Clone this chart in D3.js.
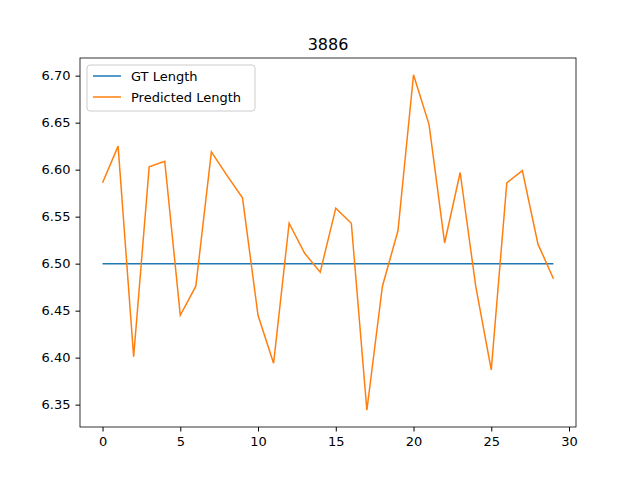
<!DOCTYPE html>
<html><head><meta charset="utf-8">
<script src="https://cdn.jsdelivr.net/npm/d3@7"></script>
<style>body{margin:0;background:#fff}text{font-family:"DejaVu Sans",sans-serif}</style>
</head><body><div id="chart"></div>
<script>
const title = "3886";
const gtLength = Array(30).fill(6.5);
const predLength = [6.586, 6.625, 6.401, 6.603, 6.609, 6.445, 6.476, 6.619, 6.594, 6.570,
  6.445, 6.394, 6.543, 6.511, 6.491, 6.559, 6.543, 6.344, 6.476, 6.535,
  6.701, 6.648, 6.522, 6.597, 6.476, 6.387, 6.586, 6.599, 6.521, 6.484];
const xTicks = [0, 5, 10, 15, 20, 25, 30];
const yTicks = [6.35, 6.40, 6.45, 6.50, 6.55, 6.60, 6.65, 6.70];

const width = 640, height = 480;
const margin = {top: 58, right: 64, bottom: 53, left: 80};

const svg = d3.select("#chart").append("svg")
  .attr("width", width).attr("height", height);

const x = d3.scaleLinear().domain([-1.45, 30.45]).range([margin.left, width - margin.right]);
const y = d3.scaleLinear().domain([6.3262, 6.7188]).range([height - margin.bottom, margin.top]);

// axes
const xAxis = svg.append("g")
  .attr("transform", `translate(0,${height - margin.bottom})`)
  .call(d3.axisBottom(x).tickValues(xTicks).tickFormat(d3.format("d")).tickSize(4.5).tickPadding(5));
const yAxis = svg.append("g")
  .attr("transform", `translate(${margin.left},0)`)
  .call(d3.axisLeft(y).tickValues(yTicks).tickFormat(d3.format(".2f")).tickSize(4.5).tickPadding(5));
[xAxis, yAxis].forEach(a => {
  a.select(".domain").remove();
  a.selectAll("text").style("font-size", "13px").attr("fill", "#000");
  a.selectAll("line").attr("stroke", "#000");
});

svg.append("rect")
  .attr("x", margin.left).attr("y", margin.top)
  .attr("width", width - margin.left - margin.right)
  .attr("height", height - margin.top - margin.bottom)
  .attr("fill", "none").attr("stroke", "#000").attr("stroke-width", 0.8);

const line = d3.line().x((d, i) => x(i)).y(d => y(d));
svg.append("path").datum(gtLength).attr("d", line)
  .attr("fill", "none").attr("stroke", "#1f77b4").attr("stroke-width", 1.5);
svg.append("path").datum(predLength).attr("d", line)
  .attr("fill", "none").attr("stroke", "#ff7f0e").attr("stroke-width", 1.5);

svg.append("text").attr("x", (margin.left + width - margin.right) / 2).attr("y", 50)
  .attr("text-anchor", "middle").style("font-size", "16px").text(title);

// legend
const legend = svg.append("g").attr("transform", `translate(87,65)`);
legend.append("rect").attr("width", 168).attr("height", 46).attr("rx", 3)
  .attr("fill", "#fff").attr("fill-opacity", 0.8).attr("stroke", "#ccc");
[["GT Length", "#1f77b4"], ["Predicted Length", "#ff7f0e"]].forEach(([name, c], i) => {
  legend.append("line").attr("x1", 6).attr("x2", 34).attr("y1", 11 + i * 21).attr("y2", 11 + i * 21)
    .attr("stroke", c).attr("stroke-width", 1.5);
  legend.append("text").attr("x", 44).attr("y", 16 + i * 21).style("font-size", "13px").text(name);
});
</script></body></html>
